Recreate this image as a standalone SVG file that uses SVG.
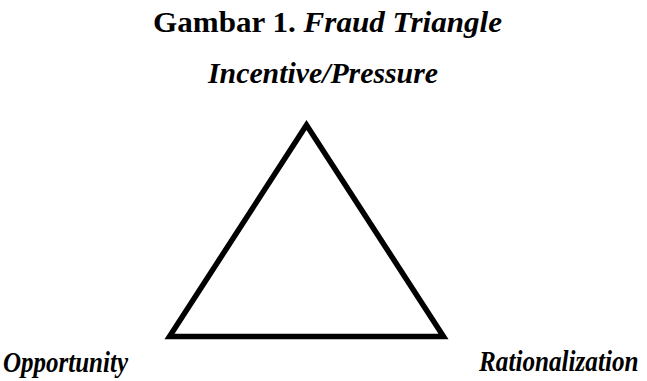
<svg xmlns="http://www.w3.org/2000/svg" width="647" height="381" viewBox="0 0 647 381">
<style>
.t{font-family:"Liberation Serif","Times New Roman",serif;fill:#000}
.title{font-size:30px;font-weight:bold}
.lbl{font-size:30px;font-weight:bold;font-style:italic}
.tri{fill:none;stroke:#000;stroke-width:5.5;stroke-linejoin:miter}
</style>
<rect width="647" height="381" fill="#fff"/>
<g id="title"><text class="t title" x="153" y="32" textLength="349" lengthAdjust="spacingAndGlyphs">Gambar 1. <tspan font-style="italic">Fraud Triangle</tspan></text></g>
<g id="triangle"><polygon class="tri" points="306.5,125 169.5,336.5 443.5,336.5"/></g>
<g id="incentive"><text class="t lbl" x="208" y="83" textLength="230" lengthAdjust="spacingAndGlyphs">Incentive/Pressure</text></g>
<g id="opportunity"><text class="t lbl" x="3" y="372" textLength="125" lengthAdjust="spacingAndGlyphs">Opportunity</text></g>
<g id="rationalization"><text class="t lbl" transform="translate(479,371) scale(0.84,1)" x="0" y="0">Rationalization</text></g>
<g id="connectors"></g>
</svg>
